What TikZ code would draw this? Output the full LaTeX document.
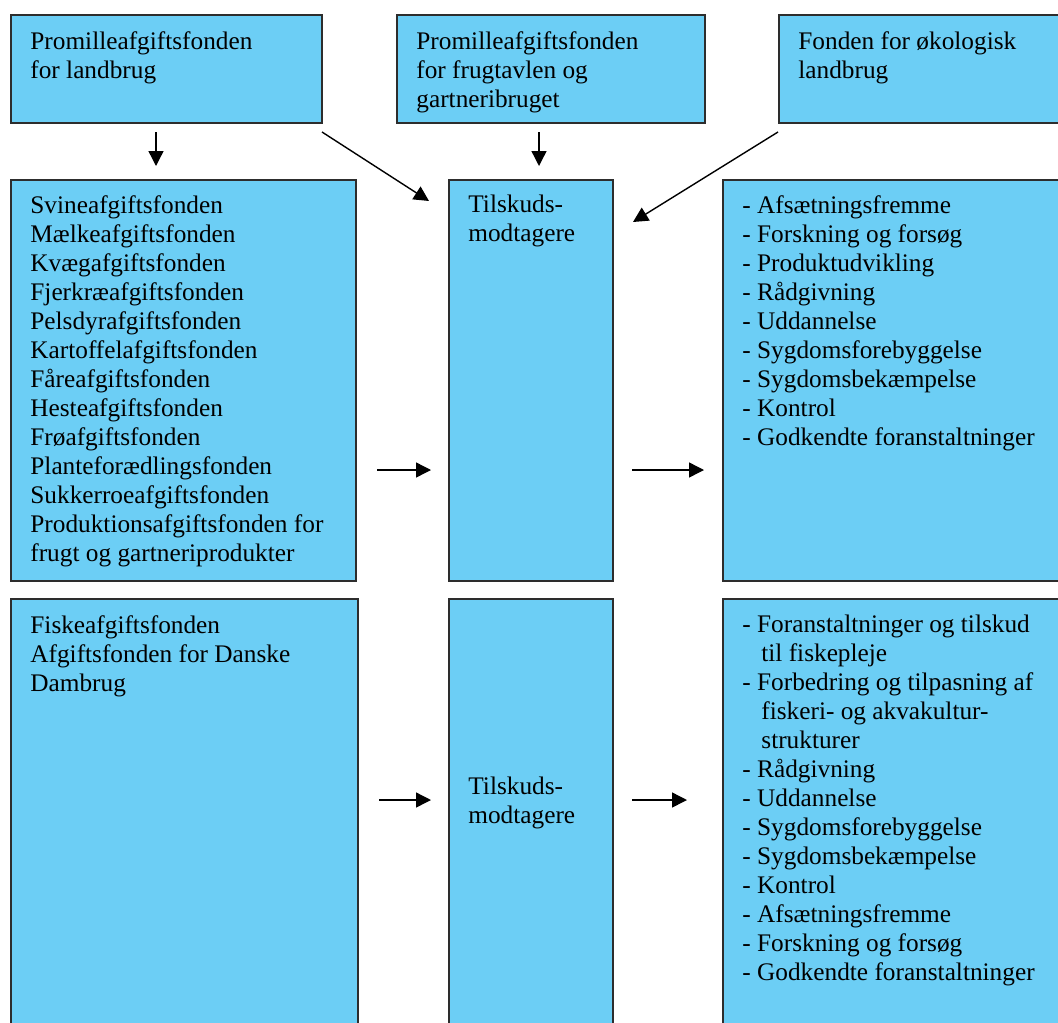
\documentclass[tikz,border=0pt]{standalone}
\usepackage{fontspec}
\setmainfont{Liberation Serif}
\usetikzlibrary{arrows.meta}
\definecolor{fondblue}{RGB}{108,206,245}
\definecolor{edgegray}{RGB}{45,45,45}
\newcommand{\px}{0.5pt}
\newcommand{\ind}{\hspace*{9.5pt}}

\begin{document}
\begin{tikzpicture}[x=0.5pt,y=-0.5pt,
    box/.style={draw=edgegray,fill=fondblue,line width=1pt,anchor=north west,inner sep=0pt},
    txt/.style={anchor=north west,inner sep=0pt,align=left,font=\fontsize{12.65}{14.5}\selectfont},
    arrowline/.style={line width=0.7pt,-{Triangle[length=7.5pt,width=7.5pt]}}]
        \useasboundingbox (0,0) rectangle (1058,1022);
        \clip (0,0) rectangle (1058,1022);
        % boxes
        \begin{scope}[every node/.style={box}]
        \node (A) at (10,14) [minimum width=311*\px,minimum height=108*\px]{};
        \node (B) at (396,14) [minimum width=308*\px,minimum height=108*\px]{};
        \node (C) at (778,14) [minimum width=300*\px,minimum height=108*\px]{};
        \node (L1) at (10,179) [minimum width=345*\px,minimum height=401*\px]{};
        \node (M1) at (448,179) [minimum width=164*\px,minimum height=401*\px]{};
        \node (R1) at (722,179) [minimum width=350*\px,minimum height=401*\px]{};
        \node (L2) at (10,598) [minimum width=347*\px,minimum height=450*\px]{};
        \node (M2) at (448,598) [minimum width=164*\px,minimum height=450*\px]{};
        \node (R2) at (722,598) [minimum width=350*\px,minimum height=450*\px]{};
        \end{scope}
        % texts
        \node[txt] (tA) at ([shift={(20,17)}]A.north west) {Promilleafgiftsfonden\\for landbrug};
        \node[txt] (tB) at ([shift={(20,17)}]B.north west) {Promilleafgiftsfonden\\for frugtavlen og\\gartneribruget};
        \node[txt] (tC) at ([shift={(20,17)}]C.north west) {Fonden for økologisk\\landbrug};
        \node[txt] (tL1) at ([shift={(20,16)}]L1.north west) {Svineafgiftsfonden\\Mælkeafgiftsfonden\\Kvægafgiftsfonden\\Fjerkræafgiftsfonden\\Pelsdyrafgiftsfonden\\Kartoffelafgiftsfonden\\Fåreafgiftsfonden\\Hesteafgiftsfonden\\Frøafgiftsfonden\\Planteforædlingsfonden\\Sukkerroeafgiftsfonden\\Produktionsafgiftsfonden for\\frugt og gartneriprodukter};
        \node[txt] (tM1) at ([shift={(20,16)}]M1.north west) {Tilskuds-\\modtagere};
        \node[txt] (tR1) at ([shift={(20,16)}]R1.north west) {- Afsætningsfremme\\- Forskning og forsøg\\- Produktudvikling\\- Rådgivning\\- Uddannelse\\- Sygdomsforebyggelse\\- Sygdomsbekæmpelse\\- Kontrol\\- Godkendte foranstaltninger};
        \node[txt] (tL2) at ([shift={(20,17)}]L2.north west) {Fiskeafgiftsfonden\\Afgiftsfonden for Danske\\Dambrug};
        \node[txt] (tM2) at ([shift={(20,179)}]M2.north west) {Tilskuds-\\modtagere};
        \node[txt] (tR2) at ([shift={(20,17)}]R2.north west) {- Foranstaltninger og tilskud\\\ind til fiskepleje\\- Forbedring og tilpasning af\\\ind fiskeri- og akvakultur-\\\ind strukturer\\- Rådgivning\\- Uddannelse\\- Sygdomsforebyggelse\\- Sygdomsbekæmpelse\\- Kontrol\\- Afsætningsfremme\\- Forskning og forsøg\\- Godkendte foranstaltninger};
        % arrows
        \path[arrowline] ([shift={(146,8)}]A.south west) edge ([shift={(146,-13)}]L1.north west);
        \path[arrowline] ([shift={(-1,8)}]A.south east) edge ([shift={(-19,22)}]M1.north west);
        \path[arrowline] ([shift={(143,8)}]B.south west) edge ([shift={(91,-13)}]M1.north west);
        \path[arrowline] ([shift={(0,8)}]C.south west) edge ([shift={(19,43)}]M1.north east);
        \path[arrowline] ([shift={(20,291)}]L1.north east) edge ([shift={(-17,291)}]M1.north west);
        \path[arrowline] ([shift={(18,291)}]M1.north east) edge ([shift={(-18,291)}]R1.north west);
        \path[arrowline] ([shift={(20,202)}]L2.north east) edge ([shift={(-17,202)}]M2.north west);
        \path[arrowline] ([shift={(18,202)}]M2.north east) edge ([shift={(-35,202)}]R2.north west);
    \end{tikzpicture}
\end{document}
